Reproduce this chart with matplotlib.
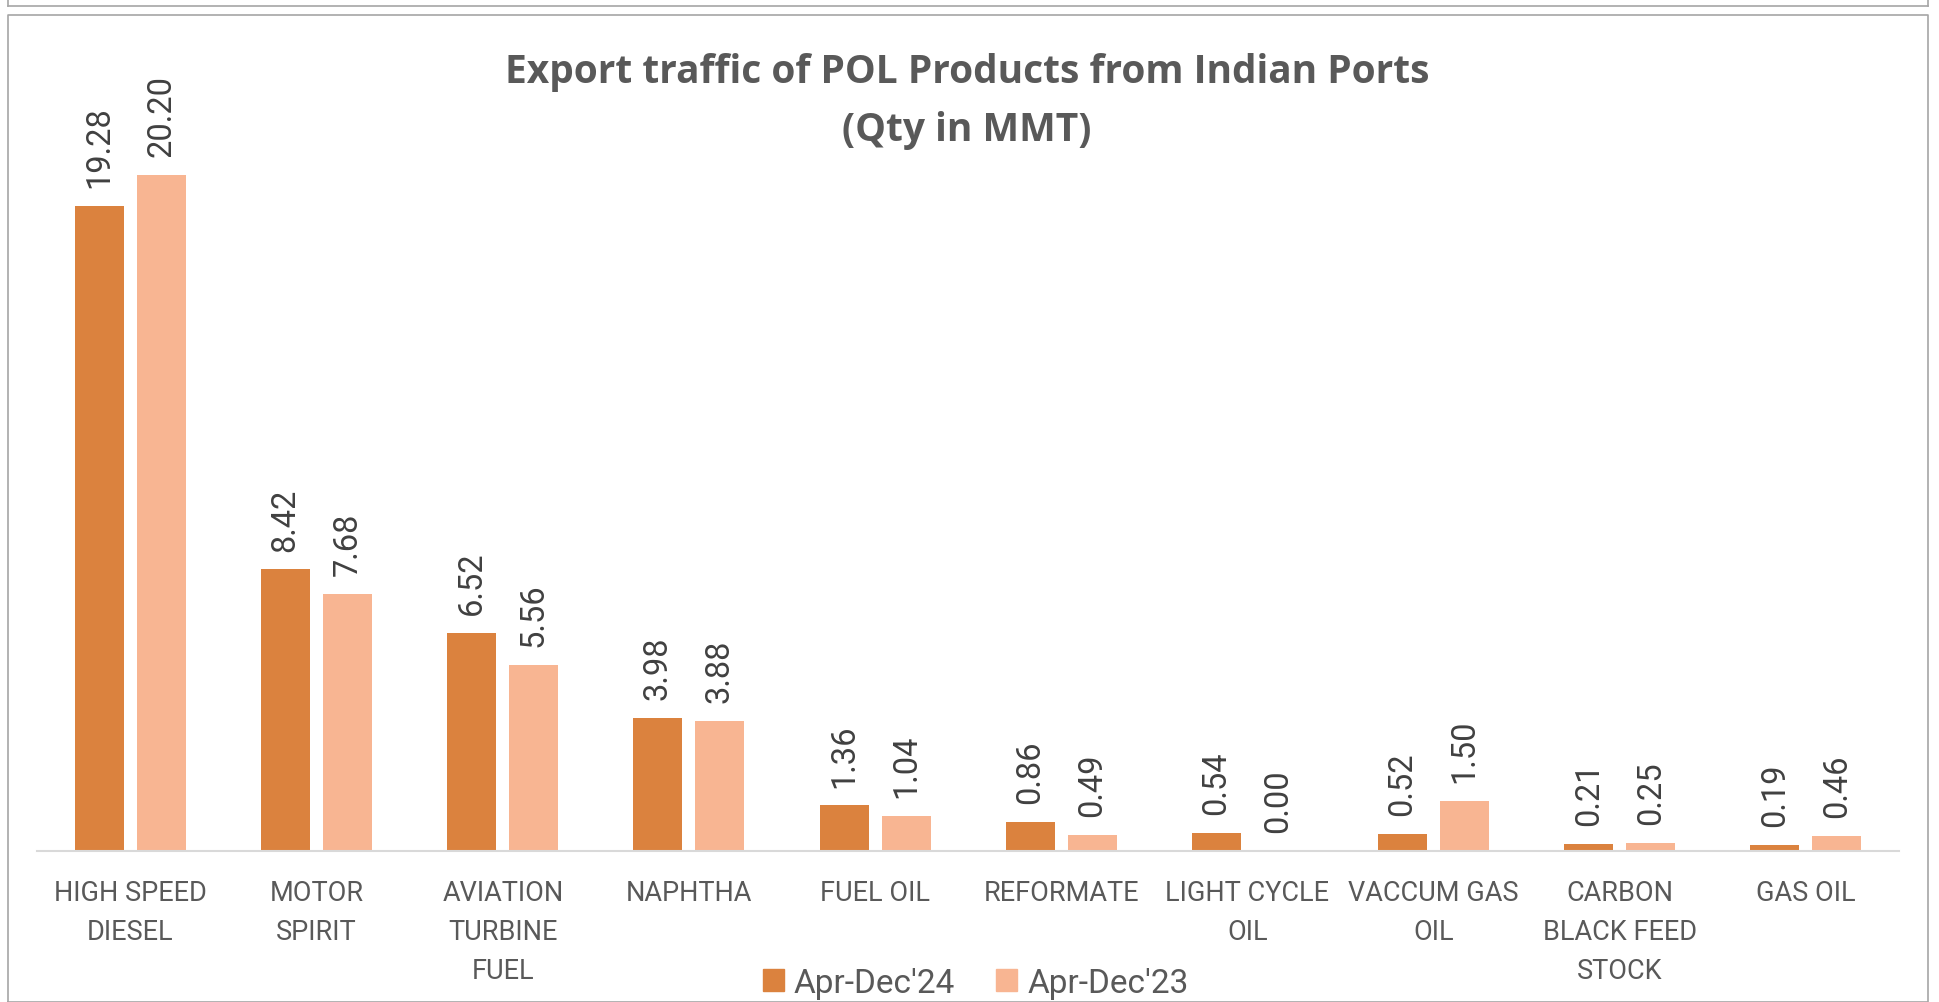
import matplotlib
matplotlib.use("Agg")
import matplotlib.pyplot as plt
from matplotlib.patches import Patch
import numpy as np

# data
categories = ["HIGH SPEED\nDIESEL", "MOTOR\nSPIRIT", "AVIATION\nTURBINE\nFUEL", "NAPHTHA",
              "FUEL OIL", "REFORMATE", "LIGHT CYCLE\nOIL", "VACCUM GAS\nOIL",
              "CARBON\nBLACK FEED\nSTOCK", "GAS OIL"]
apr_dec_24 = [19.28, 8.42, 6.52, 3.98, 1.36, 0.86, 0.54, 0.52, 0.21, 0.19]
apr_dec_23 = [20.20, 7.68, 5.56, 3.88, 1.04, 0.49, 0.00, 1.50, 0.25, 0.46]
series_names = ["Apr-Dec'24", "Apr-Dec'23"]

c24 = "#DB823E"
c23 = "#F8B592"
gray_txt = "#595959"
lab_txt = "#404040"
body_font = ["Roboto", "Liberation Sans", "DejaVu Sans"]

W, H = 1940, 1003
fig = plt.figure(figsize=(W/100, H/100), dpi=100)

# axes placed in pixel terms
x0, x1 = 37.4, 1899.0
ybase, ytop = 852.0, 15.5
ax = fig.add_axes([x0/W, 1-ybase/H, (x1-x0)/W, (ybase-ytop)/H])

x = np.arange(len(categories))
bw = 0.263
off = 0.1665
b1 = ax.bar(x-off, apr_dec_24, bw, color=c24, label=series_names[0])
b2 = ax.bar(x+off, apr_dec_23, bw, color=c23, label=series_names[1])

for bars in (b1, b2):
    ax.bar_label(bars, fmt="%.2f", rotation=90, padding=13.5, fontsize=23.5,
                 color=lab_txt, family=body_font)

ax.set_xlim(-0.5, len(categories)-0.5)
ax.set_ylim(0, 25)
ax.set_xticks(x)
ax.set_xticklabels(categories, fontsize=19.5, color=gray_txt, linespacing=1.58,
                   family=body_font)
ax.tick_params(axis="x", length=0, pad=20)
ax.set_yticks([])
for s in ["left", "right", "top"]:
    ax.spines[s].set_visible(False)
ax.spines["bottom"].set_color("#D9D9D9")
ax.spines["bottom"].set_linewidth(1.5)

# title
title_font = ["Open Sans", "DejaVu Sans"]
fig.text(967/W, 1-73/H, "Export traffic of POL Products from Indian Ports", ha="center", va="center",
         fontsize=28, fontweight="bold", color=gray_txt, family=title_font)
fig.text(967/W, 1-131/H, "(Qty in MMT)", ha="center", va="center",
         fontsize=28, fontweight="bold", color=gray_txt, family=title_font)

# legend
handles = [Patch(color=c24), Patch(color=c23)]
fig.legend(handles, series_names, loc="center", bbox_to_anchor=(975.5/W, 1-984/H), ncol=2,
           frameon=False, handlelength=0.63, handleheight=0.63, handletextpad=0.3,
           columnspacing=1.23, prop={"family": body_font, "size": 24},
           labelcolor=gray_txt, borderpad=0)

# chart frame lines
fc = "#A6A6A6"
def px_line(xs, ys):
    fig.add_artist(plt.Line2D([v/W for v in xs], [1-v/H for v in ys], color=fc, lw=1.2,
                              transform=fig.transFigure))
px_line([8, 1928], [7, 7])
px_line([8, 8], [0, 7])
px_line([1928, 1928], [0, 7])
px_line([8, 1928, 1928, 8, 8], [1003, 1003, 15.5, 15.5, 1003])

fig.savefig("out.png", dpi=100)
